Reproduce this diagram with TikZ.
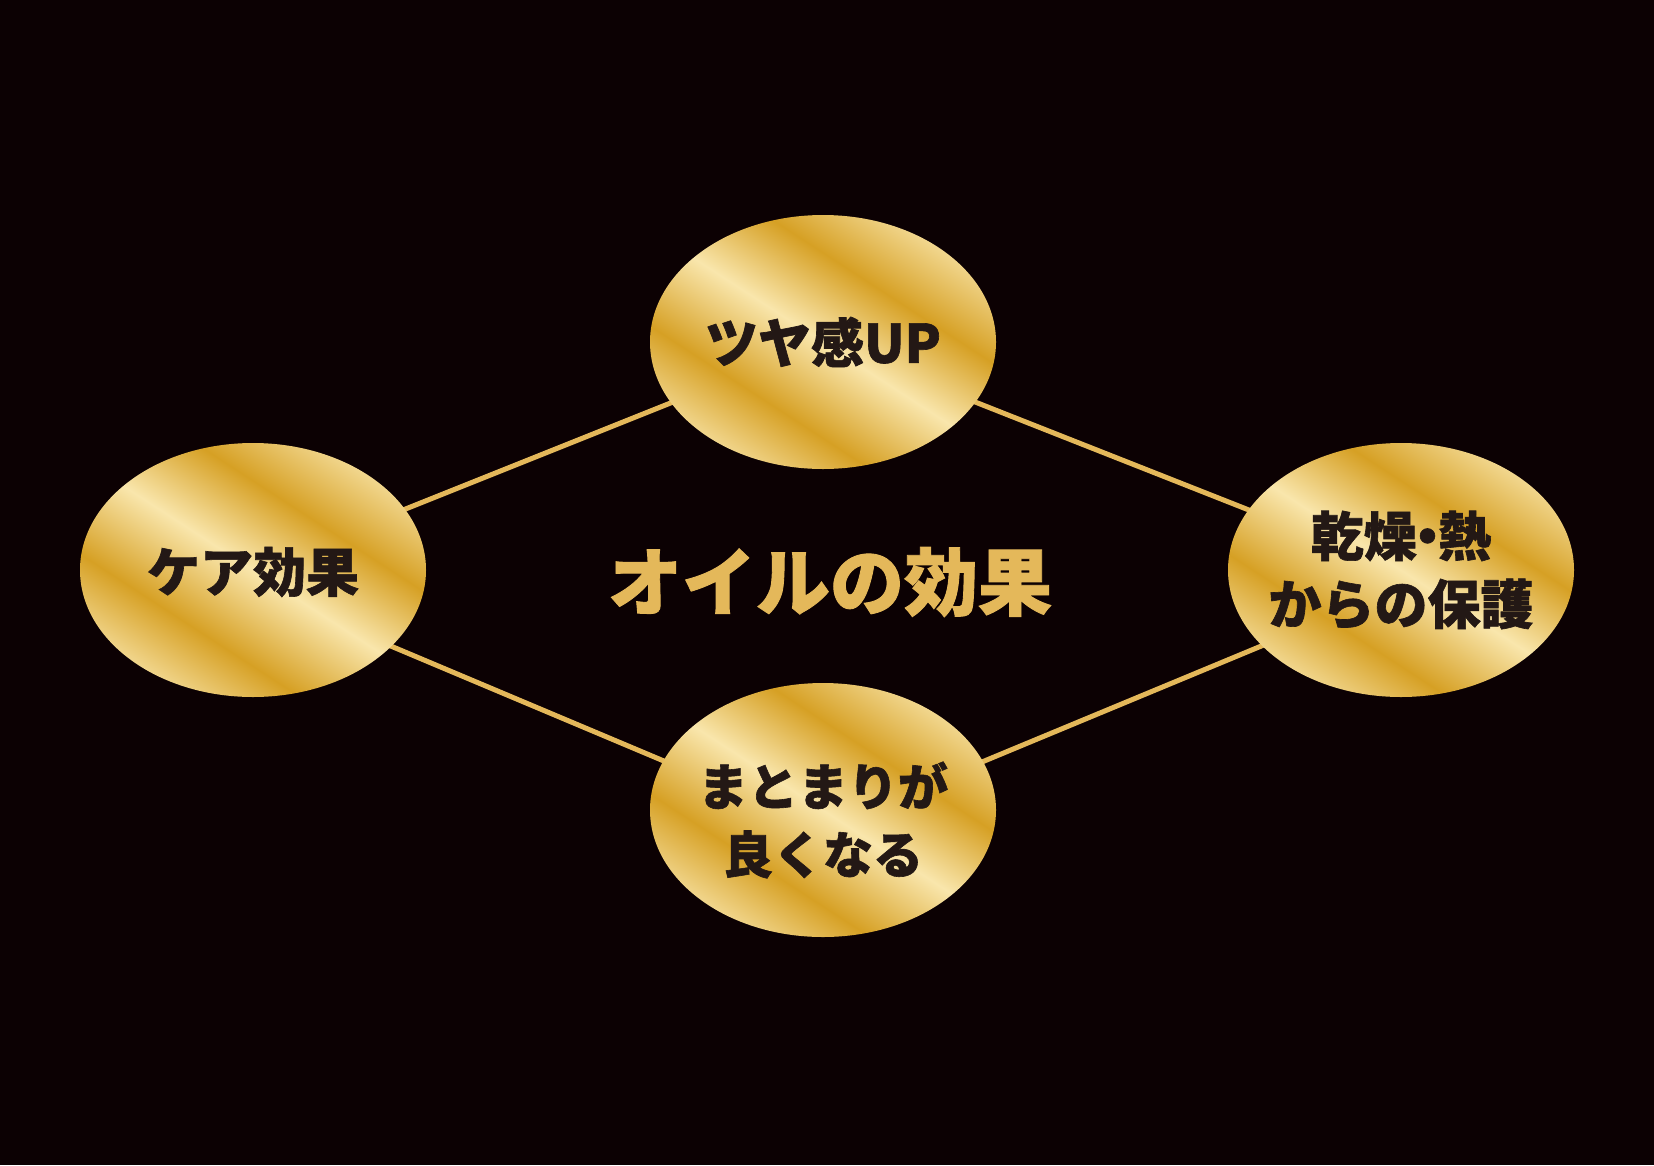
\documentclass[tikz,border=0pt]{standalone}
\usepackage{fontspec}
\usetikzlibrary{shapes.geometric}
\newfontfamily\jp{Noto Sans CJK JP}[BoldFeatures={FakeBold=1.2}]
\definecolor{bg}{RGB}{12,1,3}
\definecolor{gold}{RGB}{228,184,90}
\definecolor{gdark}{RGB}{214,160,36}
\definecolor{glight}{RGB}{249,230,172}
\definecolor{ink}{RGB}{35,24,21}
\pgfdeclarehorizontalshading{goldstripes}{100bp}{color(0bp)=(gdark); color(22bp)=(glight); color(36bp)=(gdark); color(50bp)=(glight); color(63bp)=(gdark); color(78bp)=(glight); color(100bp)=(gdark)}
\pgfdeclarelayer{backlayer}
\pgfdeclarelayer{linklayer}
\pgfsetlayers{backlayer,linklayer,main}
\tikzset{
  bubble/.style={ellipse, minimum width=346pt, minimum height=254pt, inner sep=0pt,
    shading=goldstripes, shading angle=57},
  btext/.style={text=ink, align=center, inner sep=0pt,
    font=\jp\bfseries\fontsize{53}{68}\selectfont},
  link/.style={draw=gold, line width=5pt}
}
\begin{document}
\begin{tikzpicture}[x=1pt,y=-1pt]
\begin{pgfonlayer}{backlayer}
\fill[bg] (0,0) rectangle (1654,1165);
\end{pgfonlayer}
\useasboundingbox (0,0) rectangle (1654,1165);
\node[bubble] (T) at (823,342) {};
\node[bubble] (L) at (253,570) {};
\node[bubble] (R) at (1401,570) {};
\node[bubble] (B) at (823,810) {};
\begin{pgfonlayer}{linklayer}
\draw[link] (L.center) -- (T.center);
\draw[link] (T.center) -- (R.center);
\draw[link] ([yshift=-18pt]L.center) -- ([yshift=-18pt]B.center);
\draw[link] ([yshift=-18pt]B.center) -- ([yshift=-18pt]R.center);
\end{pgfonlayer}
\node[btext] (Tt) at (T.center) {ツヤ感UP};
\node[btext] (Lt) at ([yshift=-2pt]L.center) {ケア効果};
\node[btext] (Rt) at (R.center) {乾燥\hspace{-0.3em}・\hspace{-0.3em}熱\\からの保護};
\node[btext, font=\jp\bfseries\fontsize{50}{68}\selectfont] (Bt) at ([yshift=-10pt]B.center) {まとまりが\\良くなる};
\node[text=gold, font=\jp\bfseries\fontsize{74}{80}\selectfont] (C) at (830,582) {オイルの効果};
\end{tikzpicture}
\end{document}
